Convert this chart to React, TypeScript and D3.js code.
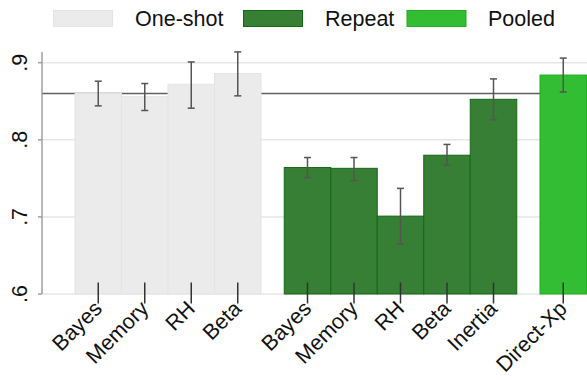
import React from "react";
import * as d3 from "d3";

const width = 587;
const height = 380;
const font = "'Liberation Sans', Arial, sans-serif";

// data
const groups = ["One-shot", "Repeat", "Pooled"];
const labels = ["Bayes", "Memory", "RH", "Beta", "Bayes", "Memory", "RH", "Beta", "Inertia", "Direct-Xp"];
const groupOf = [0, 0, 0, 0, 1, 1, 1, 1, 1, 2];
const means = [0.86, 0.856, 0.872, 0.886, 0.764, 0.763, 0.701, 0.78, 0.8525, 0.884];
const lower = [0.844, 0.838, 0.841, 0.857, 0.751, 0.747, 0.665, 0.767, 0.826, 0.862];
const upper = [0.876, 0.873, 0.901, 0.914, 0.777, 0.777, 0.737, 0.794, 0.879, 0.906];
const yTicks = [0.6, 0.7, 0.8, 0.9];
const refValue = 0.86;

const fills = ["#ebebeb", "#367f35", "#33bd33"];
const strokes = ["#e4e4e4", "#136813", "#22ae22"];

const axisX = 42;
const baseY = 294;

export default function App() {
  // slot position: index plus half a slot gap between groups
  const slot = labels.map((_, i) => i + groupOf[i] * 0.5);
  const x = d3.scaleLinear().domain([0, 11]).range([75, 586.5]);
  const bw = x(1) - x(0);
  const y = d3.scaleLinear().domain([0.6, 0.9]).range([baseY, 62.7]);

  const legend = [
    { sw: 53.5, tx: 135 },
    { sw: 243.5, tx: 325 },
    { sw: 407, tx: 488 }
  ];

  return (
    <svg width={width} height={height} style={{ position: "absolute", left: 0, top: 0, background: "#fff" }}>
      {/* legend */}
      {groups.map((g, i) => (
        <g key={g}>
          <rect x={legend[i].sw} y={10.5} width={59} height={16} fill={fills[i]} stroke={strokes[i]} strokeWidth={1} />
          <text x={legend[i].tx} y={26} fontFamily={font} fontSize={21.5} fill="#111">
            {g}
          </text>
        </g>
      ))}

      {/* grid */}
      {yTicks.map(t => (
        <line key={t} x1={axisX} x2={width} y1={y(t)} y2={y(t)} stroke="#e6e6e6" strokeWidth={1.5} />
      ))}
      <line x1={axisX} x2={width} y1={y(refValue)} y2={y(refValue)} stroke="#606060" strokeWidth={1.5} />

      {/* bars */}
      {labels.map((l, i) => (
        <rect
          key={"b" + i}
          x={x(slot[i])}
          y={y(means[i])}
          width={bw}
          height={baseY - y(means[i])}
          fill={fills[groupOf[i]]}
          stroke={strokes[groupOf[i]]}
          strokeWidth={1}
        />
      ))}

      {/* error bars */}
      {labels.map((l, i) => {
        const cx = x(slot[i] + 0.5);
        return (
          <g key={"e" + i} stroke="#555" strokeWidth={1.5}>
            <line x1={cx} x2={cx} y1={y(lower[i])} y2={y(upper[i])} />
            <line x1={cx - 3.5} x2={cx + 3.5} y1={y(lower[i])} y2={y(lower[i])} />
            <line x1={cx - 3.5} x2={cx + 3.5} y1={y(upper[i])} y2={y(upper[i])} />
          </g>
        );
      })}

      {/* y axis */}
      <line x1={axisX} x2={axisX} y1={52} y2={baseY} stroke="#a0a0a0" strokeWidth={1.5} />
      {yTicks.map(t => (
        <g key={"t" + t}>
          <line x1={axisX - 4} x2={axisX} y1={y(t)} y2={y(t)} stroke="#a0a0a0" strokeWidth={1.5} />
          <text
            transform={`translate(27,${y(t)}) rotate(-90)`}
            textAnchor="middle"
            fontFamily={font}
            fontSize={21.5}
            fill="#111"
          >
            {d3.format(".1f")(t).replace(/^0/, "")}
          </text>
        </g>
      ))}

      {/* x ticks and labels */}
      {labels.map((l, i) => {
        const cx = x(slot[i] + 0.5);
        return (
          <g key={"x" + i}>
            <line x1={cx} x2={cx} y1={282.5} y2={303.5} stroke="#333" strokeWidth={1.5} />
            <text
              transform={`translate(${cx + 5},${310}) rotate(-45)`}
              textAnchor="end"
              fontFamily={font}
              fontSize={21.5}
              fill="#111"
            >
              {l}
            </text>
          </g>
        );
      })}
    </svg>
  );
}
